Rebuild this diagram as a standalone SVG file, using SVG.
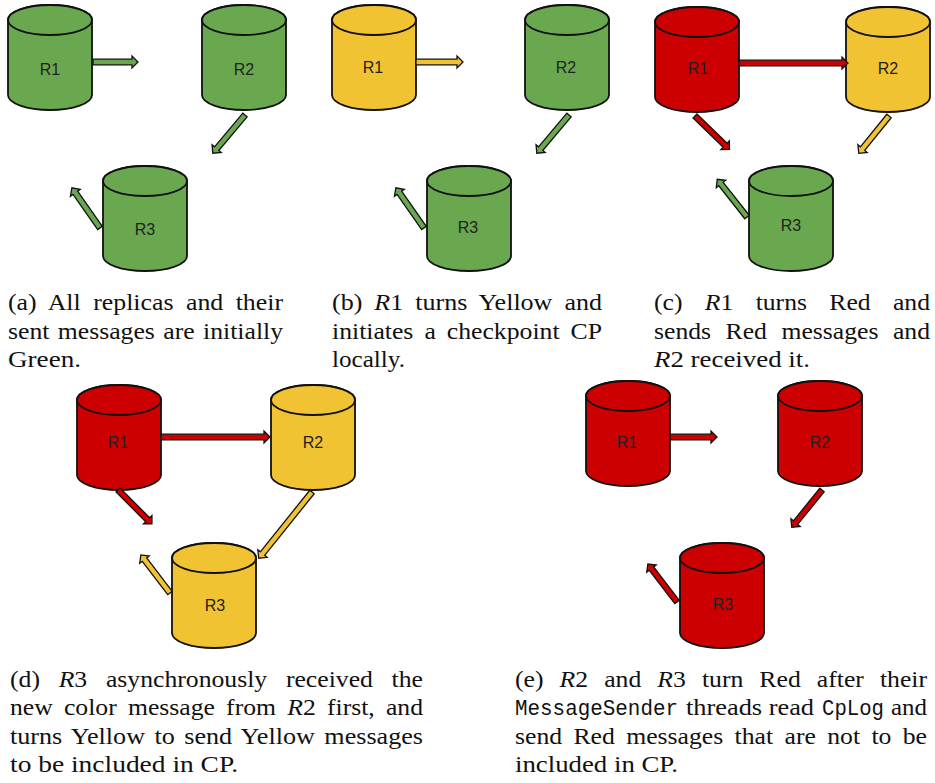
<svg xmlns="http://www.w3.org/2000/svg" xmlns:xlink="http://www.w3.org/1999/xlink" width="935" height="783" viewBox="0 0 935 783">
<style>
.g{fill:#6aa84f}.y{fill:#f1c232}.r{fill:#cc0000}
.cyl{stroke:#111;stroke-width:1.8}
.arr{stroke:#111;stroke-width:1.3;stroke-linejoin:miter}
.lbl{font-family:"Liberation Sans",Arial,sans-serif;font-size:16px;text-anchor:middle;fill:#222}
.cap{font-family:"Liberation Serif","Times New Roman",serif;font-size:24px;fill:#111}
.tt{font-family:"Liberation Mono","Courier New",monospace;font-size:22px;fill:#111}
.it{font-style:italic}
</style>
<defs>
<g id="cyl">
<path d="M-42,0V75A42,15 0 0 0 42,75V0A42,15 0 0 0 -42,0Z"/>
<ellipse cx="0" cy="0" rx="42" ry="15"/>
</g>
</defs>
<rect width="935" height="783" fill="#fff"/>

<!-- panel a -->
<g id="a-R1"><use href="#cyl" class="cyl g" transform="translate(50,20)"/><text class="lbl" x="50" y="75">R1</text></g>
<g id="a-R2"><use href="#cyl" class="cyl g" transform="translate(244,20)"/><text class="lbl" x="244" y="75">R2</text></g>
<g id="a-R3"><use href="#cyl" class="cyl g" transform="translate(145,181)"/><text class="lbl" x="145" y="235">R3</text></g>
<!-- panel b -->
<g id="b-R1"><use href="#cyl" class="cyl y" transform="translate(374,20)"/><text class="lbl" x="373" y="73">R1</text></g>
<g id="b-R2"><use href="#cyl" class="cyl g" transform="translate(567,20)"/><text class="lbl" x="566" y="73">R2</text></g>
<g id="b-R3"><use href="#cyl" class="cyl g" transform="translate(469,181)"/><text class="lbl" x="468" y="233">R3</text></g>
<!-- panel c -->
<g id="c-R1"><use href="#cyl" class="cyl r" transform="translate(697,22)"/><text class="lbl" x="698" y="74">R1</text></g>
<g id="c-R2"><use href="#cyl" class="cyl y" transform="translate(888,22)"/><text class="lbl" x="888" y="74">R2</text></g>
<g id="c-R3"><use href="#cyl" class="cyl g" transform="translate(791,181)"/><text class="lbl" x="791" y="231">R3</text></g>
<!-- panel d -->
<g id="d-R1"><use href="#cyl" class="cyl r" transform="translate(119,400)"/><text class="lbl" x="118" y="448">R1</text></g>
<g id="d-R2"><use href="#cyl" class="cyl y" transform="translate(313,400)"/><text class="lbl" x="313" y="448">R2</text></g>
<g id="d-R3"><use href="#cyl" class="cyl y" transform="translate(214,558)"/><text class="lbl" x="215" y="611">R3</text></g>
<!-- panel e -->
<g id="e-R1"><use href="#cyl" class="cyl r" transform="translate(628,396)"/><text class="lbl" x="627" y="448">R1</text></g>
<g id="e-R2"><use href="#cyl" class="cyl r" transform="translate(820,396)"/><text class="lbl" x="820" y="448">R2</text></g>
<g id="e-R3"><use href="#cyl" class="cyl r" transform="translate(722,558)"/><text class="lbl" x="723" y="610">R3</text></g>

<g id="connectors">
<!-- a -->
<path class="arr g" transform="translate(93,62)" d="M0,-2.8H39V-6L45,0L39,6V2.8H0Z"/>
<path class="arr g" transform="translate(245,115) rotate(130.1)" d="M0,-2.8H44V-6L50,0L44,6V2.8H0Z"/>
<path class="arr g" transform="translate(100,228) rotate(-125)" d="M0,-2.8H43V-6L49,0L43,6V2.8H0Z"/>
<!-- b -->
<path class="arr y" transform="translate(416,62)" d="M0,-2.8H41V-6L47,0L41,6V2.8H0Z"/>
<path class="arr g" transform="translate(569,115) rotate(130.1)" d="M0,-2.8H44V-6L50,0L44,6V2.8H0Z"/>
<path class="arr g" transform="translate(424,228) rotate(-125)" d="M0,-2.8H43V-6L49,0L43,6V2.8H0Z"/>
<!-- c -->
<path class="arr r" transform="translate(739,63)" d="M0,-2.8H103V-6L109,0L103,6V2.8H0Z"/>
<path class="arr r" transform="translate(695,116) rotate(44.1)" d="M0,-2.8H42V-6L48,0L42,6V2.8H0Z"/>
<path class="arr y" transform="translate(889,116) rotate(129)" d="M0,-2.8H42V-6L48,0L42,6V2.8H0Z"/>
<path class="arr g" transform="translate(747,217) rotate(-128.3)" d="M0,-2.8H42V-6L48,0L42,6V2.8H0Z"/>
<!-- d -->
<path class="arr r" transform="translate(161,437)" d="M0,-2.8H103V-6L109,0L103,6V2.8H0Z"/>
<path class="arr r" transform="translate(118,490) rotate(45)" d="M0,-2.8H42V-6L48,0L42,6V2.8H0Z"/>
<path class="arr y" transform="translate(312,492) rotate(128.8)" d="M0,-2.8H79V-6L85,0L79,6V2.8H0Z"/>
<path class="arr y" transform="translate(170,593) rotate(-127.4)" d="M0,-2.8H42V-6L48,0L42,6V2.8H0Z"/>
<!-- e -->
<path class="arr r" transform="translate(670,437)" d="M0,-2.8H41V-6L47,0L41,6V2.8H0Z"/>
<path class="arr r" transform="translate(822,490) rotate(129)" d="M0,-2.8H42V-6L48,0L42,6V2.8H0Z"/>
<path class="arr r" transform="translate(677,602) rotate(-127.4)" d="M0,-2.8H42V-6L48,0L42,6V2.8H0Z"/>
</g>

<g id="caption-a">
<text class="cap" x="8" y="310" word-spacing="5.6" textLength="275" lengthAdjust="spacingAndGlyphs">(a) All replicas and their</text>
<text class="cap" x="8" y="338.5" word-spacing="1.9" textLength="275" lengthAdjust="spacingAndGlyphs">sent messages are initially</text>
<text class="cap" x="8" y="367" textLength="73" lengthAdjust="spacingAndGlyphs">Green.</text>
</g>
<g id="caption-b">
<text class="cap" x="332" y="310" word-spacing="5.1" textLength="270" lengthAdjust="spacingAndGlyphs">(b) <tspan class="it">R</tspan>1 turns Yellow and</text>
<text class="cap" x="332" y="338.5" word-spacing="4.3" textLength="270" lengthAdjust="spacingAndGlyphs">initiates a checkpoint CP</text>
<text class="cap" x="332" y="367" textLength="73" lengthAdjust="spacingAndGlyphs">locally.</text>
</g>
<g id="caption-c">
<text class="cap" x="654" y="310" word-spacing="14.9" textLength="276" lengthAdjust="spacingAndGlyphs">(c) <tspan class="it">R</tspan>1 turns Red and</text>
<text class="cap" x="654" y="338.5" word-spacing="7.6" textLength="276" lengthAdjust="spacingAndGlyphs">sends Red messages and</text>
<text class="cap" x="654" y="367" textLength="156" lengthAdjust="spacingAndGlyphs"><tspan class="it">R</tspan>2 received it.</text>
</g>
<g id="caption-d">
<text class="cap" x="10" y="687" word-spacing="11.5" textLength="413" lengthAdjust="spacingAndGlyphs">(d) <tspan class="it">R</tspan>3 asynchronously received the</text>
<text class="cap" x="10" y="715.3" word-spacing="4.5" textLength="413" lengthAdjust="spacingAndGlyphs">new color message from <tspan class="it">R</tspan>2 first, and</text>
<text class="cap" x="10" y="743.6" word-spacing="2.7" textLength="413" lengthAdjust="spacingAndGlyphs">turns Yellow to send Yellow messages</text>
<text class="cap" x="10" y="772" textLength="228" lengthAdjust="spacingAndGlyphs">to be included in CP.</text>
</g>
<g id="caption-e">
<text class="cap" x="515" y="687" word-spacing="9" textLength="412" lengthAdjust="spacingAndGlyphs">(e) <tspan class="it">R</tspan>2 and <tspan class="it">R</tspan>3 turn Red after their</text>
<text class="tt" x="515" y="715.3" textLength="163" lengthAdjust="spacingAndGlyphs">MessageSender</text>
<text class="cap" x="686" y="715.3" textLength="128" lengthAdjust="spacingAndGlyphs">threads read</text>
<text class="tt" x="822" y="715.3" textLength="62" lengthAdjust="spacingAndGlyphs">CpLog</text>
<text class="cap" x="891" y="715.3" textLength="36" lengthAdjust="spacingAndGlyphs">and</text>
<text class="cap" x="515" y="743.6" word-spacing="4.6" textLength="412" lengthAdjust="spacingAndGlyphs">send Red messages that are not to be</text>
<text class="cap" x="515" y="772" textLength="163" lengthAdjust="spacingAndGlyphs">included in CP.</text>
</g>
</svg>
